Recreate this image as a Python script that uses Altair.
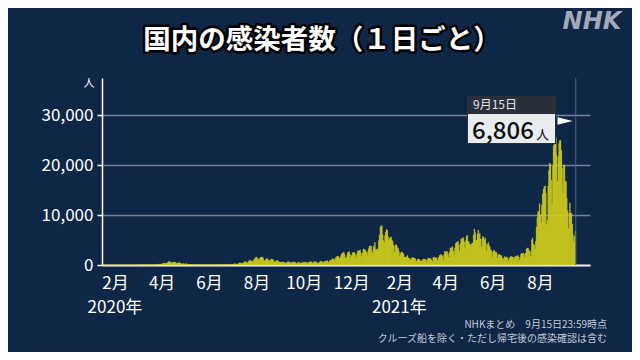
import altair as alt
import pandas as pd

# ---- daily new cases (Japan) ----
cases_2020_01 = [1, 0, 0, 0, 0, 0, 1, 2, 0, 0, 1, 1, 2, 3, 3, 1]  # from Jan 16
cases_2020_02 = [2, 1, 0, 3, 10, 3, 0, 4, 6, 0, 1, 0, 4, 4, 7, 10, 6, 7, 12, 13, 11, 15, 16, 6, 14, 18, 20, 13, 9]
cases_2020_03 = [14, 10, 15, 30, 30, 55, 40, 30, 20, 50, 50, 60, 40, 60, 40, 15, 40, 45, 40, 40, 50, 35, 40, 70, 90,
                 100, 110, 200, 160, 100, 200]
cases_2020_04 = [260, 230, 350, 370, 380, 250, 350, 500, 580, 690, 720, 560, 400, 470, 550, 580, 580, 560, 380, 350,
                 380, 440, 430, 430, 360, 200, 260, 260, 280, 210]
cases_2020_05 = [160, 290, 200, 120, 110, 130, 110, 80, 110, 60, 80, 80, 70, 90, 80, 60, 30, 30, 40, 60, 30, 30, 40,
                 20, 20, 30, 40, 60, 50, 40, 30]
cases_2020_06 = [30, 40, 50, 40, 50, 40, 40, 20, 40, 30, 40, 50, 50, 50, 50, 60, 40, 70, 60, 60, 50, 50, 50, 60, 60,
                 100, 90, 80, 60, 120]
cases_2020_07 = [130, 180, 260, 270, 210, 110, 200, 220, 350, 430, 390, 410, 240, 320, 460, 630, 580, 660, 510, 420,
                 630, 790, 980, 790, 860, 710, 600, 980, 1260, 1300, 1580]
cases_2020_08 = [1540, 1300, 960, 1240, 1360, 1480, 1600, 1590, 1440, 1000, 800, 960, 1150, 1350, 1200, 990, 700, 900,
                 1100, 1200, 1130, 1040, 750, 580, 680, 900, 910, 850, 710, 600, 570]
cases_2020_09 = [500, 600, 600, 580, 550, 430, 320, 500, 510, 650, 650, 600, 470, 310, 600, 480, 600, 590, 560, 490,
                 300, 300, 560, 500, 460, 400, 360, 490, 400, 560]
cases_2020_10 = [560, 490, 540, 570, 320, 400, 550, 650, 630, 660, 490, 320, 650, 570, 700, 620, 600, 400, 330, 490,
                 620, 750, 700, 680, 610, 500, 720, 730, 800, 760, 880]
cases_2020_11 = [600, 530, 900, 890, 1000, 1140, 1300, 1100, 990, 1300, 1550, 1700, 1700, 1740, 1440, 1290, 1700, 2200,
                 2400, 2370, 2600, 2200, 1500, 1300, 1900, 2500, 2500, 2700, 2100, 1480]
cases_2020_12 = [1920, 2350, 2530, 2430, 2500, 2000, 1500, 2300, 2800, 2900, 2800, 3000, 2430, 1680, 2400, 3200, 3200,
                 2900, 2990, 2500, 1900, 2700, 3300, 3800, 3800, 3800, 2900, 2400, 3600, 3900, 4500]
cases_2021_01 = [3200, 3100, 3100, 3300, 4900, 6000, 7570, 7880, 7800, 6090, 4900, 4500, 5900, 6600, 7100, 7000, 5700,
                 4900, 5300, 5600, 5600, 5000, 4700, 3990, 2500, 3800, 4100, 4000, 3500, 3300, 2700]
cases_2021_02 = [1800, 2300, 2600, 2600, 2400, 2200, 1600, 1500, 1600, 1700, 1900, 1400, 1400, 1200, 1000, 1300, 1500,
                 1500, 1400, 1300, 1300, 740, 800, 1200, 1200, 1100, 1000, 800]
cases_2021_03 = [800, 950, 1200, 1200, 1200, 1100, 1000, 600, 1300, 1300, 1300, 1300, 1300, 1000, 700, 1500, 1600,
                 1500, 1400, 1500, 1100, 800, 1500, 1900, 1900, 2100, 2000, 1800, 1100, 2100, 2800]
cases_2021_04 = [2600, 2700, 2700, 2300, 1600, 2600, 3400, 3400, 3500, 3700, 2800, 2000, 3400, 4300, 4500, 4500, 4800,
                 4000, 2700, 4300, 5200, 5400, 5100, 5500, 4600, 3300, 4900, 5800, 5900, 4700]
cases_2021_05 = [4700, 4200, 4100, 4000, 4400, 4400, 6000, 7200, 6500, 4900, 5000, 6200, 7000, 6000, 6400, 5200, 3700,
                 5200, 5700, 5600, 5000, 5400, 4300, 2800, 4100, 4500, 3900, 3600, 3000, 2900, 1600]
cases_2021_06 = [2600, 3000, 2800, 2600, 2600, 2300, 1400, 2000, 2200, 1900, 1900, 1900, 1400, 900, 1400, 1700, 1500,
                 1600, 1600, 1300, 800, 1300, 1600, 1700, 1700, 1600, 1500, 900, 1600, 1700]
cases_2021_07 = [1800, 1800, 1900, 1600, 900, 1600, 2200, 2300, 2300, 2400, 2100, 1400, 2400, 3200, 3400, 3400, 3100,
                 2700, 1700, 2800, 5000, 5400, 4200, 4000, 3200, 4700, 7600, 9500, 10700, 10700, 12300]
cases_2021_08 = [10100, 8400, 12000, 14200, 15200, 15700, 15800, 14400, 8100, 9000, 15800, 18900, 20400, 20100, 17000,
                 12000, 19700, 23900, 25100, 25900, 25500, 22000, 16800, 21600, 24300, 24900, 24900, 22900, 19300,
                 14500, 20000]
cases_2021_09 = [20000, 16800, 16700, 13400, 10900, 7300, 10400, 12400, 10400, 10300, 8200, 6100, 4500, 5700, 6806]

month_starts = ["2020-01-16", "2020-02-01", "2020-03-01", "2020-04-01", "2020-05-01", "2020-06-01", "2020-07-01",
                "2020-08-01", "2020-09-01", "2020-10-01", "2020-11-01", "2020-12-01", "2021-01-01", "2021-02-01",
                "2021-03-01", "2021-04-01", "2021-05-01", "2021-06-01", "2021-07-01", "2021-08-01", "2021-09-01"]
month_values = [cases_2020_01, cases_2020_02, cases_2020_03, cases_2020_04, cases_2020_05, cases_2020_06,
                cases_2020_07, cases_2020_08, cases_2020_09, cases_2020_10, cases_2020_11, cases_2020_12,
                cases_2021_01, cases_2021_02, cases_2021_03, cases_2021_04, cases_2021_05, cases_2021_06,
                cases_2021_07, cases_2021_08, cases_2021_09]

x_tick_dates = ["2020-02-01", "2020-04-01", "2020-06-01", "2020-08-01", "2020-10-01", "2020-12-01",
                "2021-02-01", "2021-04-01", "2021-06-01", "2021-08-01"]
year_label_dates = ["2020-02-01", "2021-02-01"]
year_labels = ["2020年", "2021年"]
y_ticks = [0, 10000, 20000, 30000]

title_text = "国内の感染者数（１日ごと）"
note_1 = "NHKまとめ　9月15日23:59時点"
note_2 = "クルーズ船を除く・ただし帰宅後の感染確認は含む"

DAY = 86400000


def ms(s):
    return int(pd.Timestamp(s).value // 10 ** 6)


rows = []
for start, vals in zip(month_starts, month_values):
    d0 = pd.Timestamp(start)
    for i, v in enumerate(vals):
        t = int((d0 + pd.Timedelta(days=i)).value // 10 ** 6)
        rows.append({"start": t, "end": t + DAY, "cases": v})
df = pd.DataFrame(rows)
last = df.iloc[-1]
last_day = pd.Timestamp(int(last["start"]), unit="ms")

BG = "#0f2747"
BAR = "#d0ce1e"
FONT = "Noto Sans CJK JP"
W, H = 488, 187

x_scale = alt.Scale(type="utc", domain=[ms("2020-01-15 06:30"), ms("2021-10-04 08:00")])
y_scale = alt.Scale(domain=[0, 37400], nice=False)

bars = alt.Chart(df).mark_bar(color=BAR, stroke=BAR, strokeWidth=0.35).encode(
    x=alt.X("start:T", scale=x_scale, title=None,
            axis=alt.Axis(values=[ms(d) for d in x_tick_dates],
                          labelExpr="(utcmonth(datum.value)+1) + '月'",
                          ticks=False, tickSize=0, grid=False, domainColor="#e8eaee", domainWidth=2,
                          labelColor="white", labelFontSize=17, labelFont=FONT, labelPadding=10,
                          labelFlush=False, labelOverlap=False)),
    x2="end:T",
    y=alt.Y("cases:Q", scale=y_scale, title=None,
            axis=alt.Axis(values=y_ticks, format=",d", labelColor="white", labelFontSize=17, labelFont=FONT,
                          labelPadding=4, tickColor="white", tickSize=5, tickWidth=1.5,
                          domainColor="white", domainWidth=1.5,
                          gridColor="#77819a", gridWidth=1.5)),
    y2=alt.datum(0),
)

marker_df = pd.DataFrame({"t": [int(last["end"])]})
vline = alt.Chart(marker_df).mark_rule(color="#52627f", strokeWidth=1).encode(
    x=alt.X("t:T", scale=x_scale), y=alt.value(0), y2=alt.value(H))

one = pd.DataFrame({"k": [0]})
box_dark = alt.Chart(one).mark_rect(color="#2a3039").encode(
    x=alt.value(365), x2=alt.value(454), y=alt.value(18), y2=alt.value(66))
box_light = alt.Chart(one).mark_rect(color="#e9ecef").encode(
    x=alt.value(366), x2=alt.value(453), y=alt.value(36), y2=alt.value(65))
flag = alt.Chart(one).mark_point(shape="M-1,-0.5L1,0L-1,0.5Z", filled=True, color="white", opacity=1,
                                 size=225).encode(x=alt.value(463), y=alt.value(43))

date_txt = alt.Chart(pd.DataFrame({"t": [f"{last_day.month}月{last_day.day}日"]})).mark_text(
    align="left", baseline="middle", font=FONT, fontSize=12, color="#e2e5ea").encode(
    x=alt.value(371), y=alt.value(27), text="t:N")
val_txt = alt.Chart(pd.DataFrame({"t": [f"{int(last['cases']):,}"]})).mark_text(
    align="left", baseline="alphabetic", font=FONT, fontSize=24, fontWeight=500, color="#111111").encode(
    x=alt.value(370), y=alt.value(61), text="t:N")
unit_box_txt = alt.Chart(pd.DataFrame({"t": ["人"]})).mark_text(
    align="left", baseline="alphabetic", font=FONT, fontSize=13, color="#111111").encode(
    x=alt.value(434), y=alt.value(61), text="t:N")

title_df = pd.DataFrame({"t": [title_text]})
title_outline = alt.Chart(title_df).mark_text(
    align="center", baseline="middle", font=FONT, fontSize=27.5, fontWeight="bold", color="black",
    stroke="black", strokeWidth=5, strokeJoin="round").encode(x=alt.value(220), y=alt.value(-37), text="t:N")
title_fill = alt.Chart(title_df).mark_text(
    align="center", baseline="middle", font=FONT, fontSize=27.5, fontWeight="bold", color="white").encode(
    x=alt.value(220), y=alt.value(-37), text="t:N")

logo = alt.Chart(pd.DataFrame({"t": ["NHK"]})).mark_text(
    align="center", baseline="middle", font="DejaVu Sans", fontSize=24, fontWeight="bold", fontStyle="italic",
    color="#a2aab8").encode(x=alt.value(490), y=alt.value(-56), text="t:N")

unit_txt = alt.Chart(pd.DataFrame({"t": ["人"]})).mark_text(
    align="center", baseline="middle", font=FONT, fontSize=11, color="white").encode(
    x=alt.value(-13), y=alt.value(6), text="t:N")

year_df = pd.DataFrame({"d": [ms(d) for d in year_label_dates], "t": year_labels})
years = alt.Chart(year_df).mark_text(
    align="center", baseline="middle", font=FONT, fontSize=17, color="white").encode(
    x=alt.X("d:T", scale=x_scale), y=alt.value(230), text="t:N")

note_a = alt.Chart(pd.DataFrame({"t": [note_1]})).mark_text(
    align="right", baseline="middle", font=FONT, fontSize=10, color="#c5cad3").encode(
    x=alt.value(505), y=alt.value(247), text="t:N")
note_b = alt.Chart(pd.DataFrame({"t": [note_2]})).mark_text(
    align="right", baseline="middle", font=FONT, fontSize=10, color="#c5cad3").encode(
    x=alt.value(505), y=alt.value(261), text="t:N")

chart = alt.layer(
    bars, vline, box_dark, box_light, flag, date_txt, val_txt, unit_box_txt,
    title_outline, title_fill, logo, unit_txt, years, note_a, note_b
).properties(
    width=W, height=H,
    padding={"left": 94, "top": 70, "right": 42, "bottom": 87},
    autosize=alt.AutoSizeParams(type="none"),
    background=BG,
).configure_view(stroke=None)

chart.save("out.html", embed_options={"renderer": "svg", "actions": False})
